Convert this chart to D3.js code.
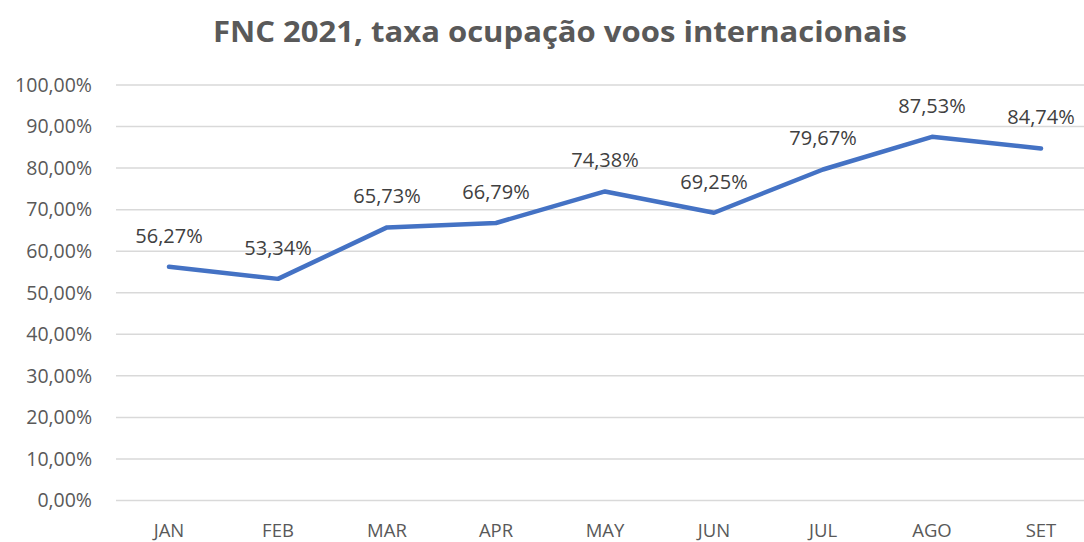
<!DOCTYPE html>
<html>
<head>
<meta charset="utf-8">
<script src="https://cdn.jsdelivr.net/npm/d3@7"></script>
<style>
  html, body { margin: 0; padding: 0; background: #fff; }
  svg { display: block; font-family: "Open Sans", "Noto Sans", sans-serif; }
</style>
</head>
<body>
<svg id="chart" width="1084" height="542"></svg>
<script>
// dados
var months = ['JAN', 'FEB', 'MAR', 'APR', 'MAY', 'JUN', 'JUL', 'AGO', 'SET'];
var occupancy = [56.27, 53.34, 65.73, 66.79, 74.38, 69.25, 79.67, 87.53, 84.74];
var yTicks = [0, 10, 20, 30, 40, 50, 60, 70, 80, 90, 100];

var W = 1084, H = 542;
var svg = d3.select('#chart');

var x = d3.scaleBand()
  .domain(months)
  .range([114.5, 114.5 + 9 * 109]);

var y = d3.scaleLinear()
  .domain([0, 100])
  .range([500.5, 85]);

var fmt = function (v) { return v.toFixed(2).replace('.', ',') + '%'; };

// título
svg.append('text')
  .attr('x', 560)
  .attr('y', 42)
  .attr('text-anchor', 'middle')
  .attr('font-size', 29)
  .attr('font-weight', 700)
  .attr('fill', '#595959')
  .attr('textLength', 694)
  .attr('lengthAdjust', 'spacingAndGlyphs')
  .text('FNC 2021, taxa ocupação voos internacionais');

// grelha horizontal
svg.append('g')
  .selectAll('line')
  .data(yTicks)
  .join('line')
  .attr('x1', 116)
  .attr('x2', W)
  .attr('y1', function (d) { return y(d); })
  .attr('y2', function (d) { return y(d); })
  .attr('stroke', '#d9d9d9')
  .attr('stroke-width', 1.5);

// eixo y
svg.append('g')
  .selectAll('text')
  .data(yTicks)
  .join('text')
  .attr('x', 92)
  .attr('y', function (d) { return y(d); })
  .attr('dy', '0.35em')
  .attr('text-anchor', 'end')
  .attr('font-size', 19.5)
  .attr('fill', '#595959')
  .text(function (d) { return fmt(d); });

// eixo x
svg.append('g')
  .selectAll('text')
  .data(months)
  .join('text')
  .attr('x', function (d) { return x(d) + x.bandwidth() / 2; })
  .attr('y', 537)
  .attr('text-anchor', 'middle')
  .attr('font-size', 18.5)
  .attr('fill', '#595959')
  .text(function (d) { return d; });

var pts = months.map(function (m, i) { return { m: m, v: occupancy[i] }; });

var line = d3.line()
  .x(function (d) { return x(d.m) + x.bandwidth() / 2; })
  .y(function (d) { return y(d.v); });

svg.append('path')
  .datum(pts)
  .attr('d', line)
  .attr('fill', 'none')
  .attr('stroke', '#4472c4')
  .attr('stroke-width', 4.5)
  .attr('stroke-linejoin', 'round')
  .attr('stroke-linecap', 'round');

// rótulos de dados
svg.append('g')
  .selectAll('text')
  .data(pts)
  .join('text')
  .attr('x', function (d) { return x(d.m) + x.bandwidth() / 2; })
  .attr('y', function (d) { return y(d.v) - 24; })
  .attr('text-anchor', 'middle')
  .attr('font-size', 20)
  .attr('fill', '#404040')
  .text(function (d) { return fmt(d.v); });
</script>
</body>
</html>
